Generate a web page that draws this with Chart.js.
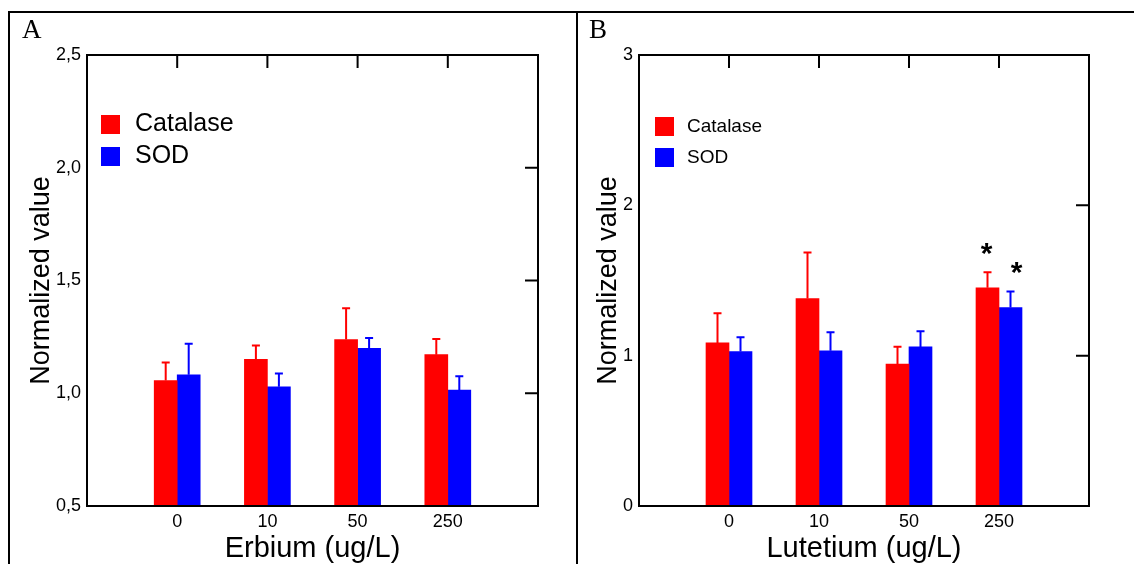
<!DOCTYPE html>
<html>
<head>
<meta charset="utf-8">
<script src="https://cdn.jsdelivr.net/npm/chart.js@4/dist/chart.umd.min.js"></script>
<style>
  html, body { margin:0; padding:0; background:#fff; overflow:hidden; width:1134px; height:564px; }
  #wrap { position:relative; width:1134px; height:564px; }
  canvas { position:absolute; top:0; }
  #cA { left:0; }
  #cB { left:577px; }
  .frameTop { position:absolute; left:8px; top:11px; width:1126px; height:2px; background:#000; }
  .frameLeft { position:absolute; left:8px; top:11px; width:2px; height:560px; background:#000; }
  .frameMid { position:absolute; left:576px; top:11px; width:2px; height:560px; background:#000; }
  .plabel { position:absolute; top:16px; font-family:'Liberation Serif','Times New Roman',serif; font-size:27px; line-height:27px; color:#000; }
</style>
</head>
<body>
<div id="wrap">
  <canvas id="cA" width="577" height="564"></canvas>
  <canvas id="cB" width="557" height="564"></canvas>
  <div class="frameTop"></div>
  <div class="frameLeft"></div>
  <div class="frameMid"></div>
  <div class="plabel" style="left:22px">A</div>
  <div class="plabel" style="left:589px">B</div>
</div>
<script>
// ---------- data ----------
const concentrations = ['0', '10', '50', '250'];
const seriesNames = ['Catalase', 'SOD'];

const erbiumCatalase    = [1.056, 1.150, 1.238, 1.171];
const erbiumCatalaseErr = [0.080, 0.062, 0.139, 0.070];
const erbiumSOD         = [1.082, 1.029, 1.199, 1.014];
const erbiumSODErr      = [0.137, 0.059, 0.046, 0.061];

const lutetiumCatalase    = [1.085, 1.380, 0.944, 1.451];
const lutetiumCatalaseErr = [0.197, 0.307, 0.116, 0.104];
const lutetiumSOD         = [1.027, 1.033, 1.058, 1.320];
const lutetiumSODErr      = [0.095, 0.122, 0.104, 0.107];
const lutetiumCatalaseSig = ['', '', '', '*'];
const lutetiumSODSig      = ['', '', '', '*'];

const yTickValuesA = [0.5, 1.0, 1.5, 2.0, 2.5];
const yTickLabelsA = ['0,5', '1,0', '1,5', '2,0', '2,5'];
const yTickValuesB = [0, 1, 2, 3];
const yTickLabelsB = ['0', '1', '2', '3'];

const xTitleA = 'Erbium (ug/L)';
const xTitleB = 'Lutetium (ug/L)';
const yTitle = 'Normalized value';

// ---------- styling ----------
const RED = '#ff0000', BLUE = '#0000ff';
const FONT = "'Liberation Sans', Arial, Helvetica, sans-serif";
Chart.defaults.font.family = FONT;
Chart.defaults.color = '#000';

const decor = {
  id: 'decor',
  afterDatasetsDraw(chart, args, o) {
    const ctx = chart.ctx;
    const { left, top, right, bottom } = chart.chartArea;
    const xs = chart.scales.x, ys = chart.scales.y;
    ctx.save();
    // error bars + significance marks
    chart.data.datasets.forEach((ds, di) => {
      const meta = chart.getDatasetMeta(di);
      meta.data.forEach((bar, i) => {
        const v = ds.data[i], e = ds.errors ? ds.errors[i] : null;
        if (v == null || e == null) return;
        const yT = ys.getPixelForValue(v + e);
        ctx.strokeStyle = ds.backgroundColor;
        ctx.lineWidth = 2;
        ctx.beginPath();
        ctx.moveTo(bar.x, bar.y); ctx.lineTo(bar.x, yT);
        ctx.moveTo(bar.x - 4, yT); ctx.lineTo(bar.x + 4, yT);
        ctx.stroke();
        if (ds.sig && ds.sig[i]) {
          ctx.fillStyle = '#000';
          ctx.font = 'bold 30px ' + FONT;
          ctx.textAlign = 'center';
          ctx.textBaseline = 'alphabetic';
          ctx.fillText(ds.sig[i], bar.x + (o.starDx[di] || 0), yT - 26.5 + 17);
        }
      });
    });
    // plot frame
    ctx.strokeStyle = '#000';
    ctx.lineWidth = 2;
    ctx.strokeRect(left, top, right - left, bottom - top);
    ctx.beginPath();
    // inward ticks on top axis at categories
    xs.ticks.forEach((t, i) => {
      if (!xs.getLabelForValue(t.value)) return;
      const x = xs.getPixelForTick(i);
      ctx.moveTo(x, top); ctx.lineTo(x, top + 13);
    });
    // inward ticks on right axis
    ys.ticks.forEach((t, i) => {
      const y = ys.getPixelForTick(i);
      if (y <= top + 1 || y >= bottom - 1) return;
      ctx.moveTo(right, y); ctx.lineTo(right - 13, y);
    });
    ctx.stroke();
    // legend
    const L = o.legend;
    chart.data.datasets.forEach((ds, di) => {
      const by = L.y + di * L.gap;
      ctx.fillStyle = ds.backgroundColor;
      ctx.fillRect(L.x, by, L.box, L.box);
      ctx.fillStyle = '#000';
      ctx.font = L.size + 'px ' + FONT;
      ctx.textAlign = 'left';
      ctx.textBaseline = 'middle';
      ctx.fillText(ds.label, L.textX, by + L.box / 2);
    });
    ctx.restore();
  }
};

function makePanel(id, cfg) {
  const labels = ['', ...concentrations, ''];
  const pad = arr => [null, ...arr, null];
  return new Chart(document.getElementById(id), {
    type: 'bar',
    data: {
      labels,
      datasets: [
        { label: seriesNames[0], data: pad(cfg.cat), errors: pad(cfg.catErr), sig: cfg.catSig ? pad(cfg.catSig) : null,
          backgroundColor: RED, borderWidth: 0, barThickness: 23 },
        { label: seriesNames[1], data: pad(cfg.sod), errors: pad(cfg.sodErr), sig: cfg.sodSig ? pad(cfg.sodSig) : null,
          backgroundColor: BLUE, borderWidth: 0, barThickness: 23 }
      ]
    },
    options: {
      responsive: false,
      animation: false,
      events: [],
      layout: { padding: { left: 0, top: 55, right: cfg.padRight, bottom: 0 } },
      plugins: {
        legend: { display: false },
        tooltip: { enabled: false },
        decor: { legend: cfg.legend, starDx: [-1, 6] }
      },
      scales: {
        x: {
          type: 'category',
          offset: false,
          grid: { display: false, drawTicks: false },
          border: { display: false },
          ticks: { font: { size: 18 }, padding: 5, autoSkip: false, maxRotation: 0 },
          title: { display: true, text: cfg.xTitle, font: { size: 29, lineHeight: 1 }, padding: { top: 0, bottom: 0.7 } },
          afterFit: s => { s.height = 58; }
        },
        y: {
          min: cfg.yVals[0], max: cfg.yVals[cfg.yVals.length - 1],
          grid: { display: false, drawTicks: false },
          border: { display: false },
          afterBuildTicks: s => { s.ticks = cfg.yVals.map(v => ({ value: v })); },
          ticks: {
            font: { size: 18 }, padding: 6,
            callback: v => { const k = cfg.yVals.indexOf(v); return k >= 0 ? cfg.yLabels[k] : ''; }
          },
          title: { display: true, text: yTitle, font: { size: 27 }, padding: { top: cfg.yTitlePad, bottom: 0 } },
          afterFit: s => { s.width = cfg.yWidth; }
        }
      }
    },
    plugins: [decor]
  });
}

makePanel('cA', {
  cat: erbiumCatalase, catErr: erbiumCatalaseErr,
  sod: erbiumSOD, sodErr: erbiumSODErr,
  yVals: yTickValuesA, yLabels: yTickLabelsA,
  xTitle: xTitleA, yWidth: 87, padRight: 577 - 538, yTitlePad: 25,
  legend: { x: 101, y: 115, box: 19, gap: 32, size: 25, textX: 135 }
});

makePanel('cB', {
  cat: lutetiumCatalase, catErr: lutetiumCatalaseErr, catSig: lutetiumCatalaseSig,
  sod: lutetiumSOD, sodErr: lutetiumSODErr, sodSig: lutetiumSODSig,
  yVals: yTickValuesB, yLabels: yTickLabelsB,
  xTitle: xTitleB, yWidth: 62, padRight: 557 - (1089 - 577), yTitlePad: 15,
  legend: { x: 655 - 577, y: 117, box: 19, gap: 31, size: 19, textX: 687 - 577 }
});
</script>
</body>
</html>
